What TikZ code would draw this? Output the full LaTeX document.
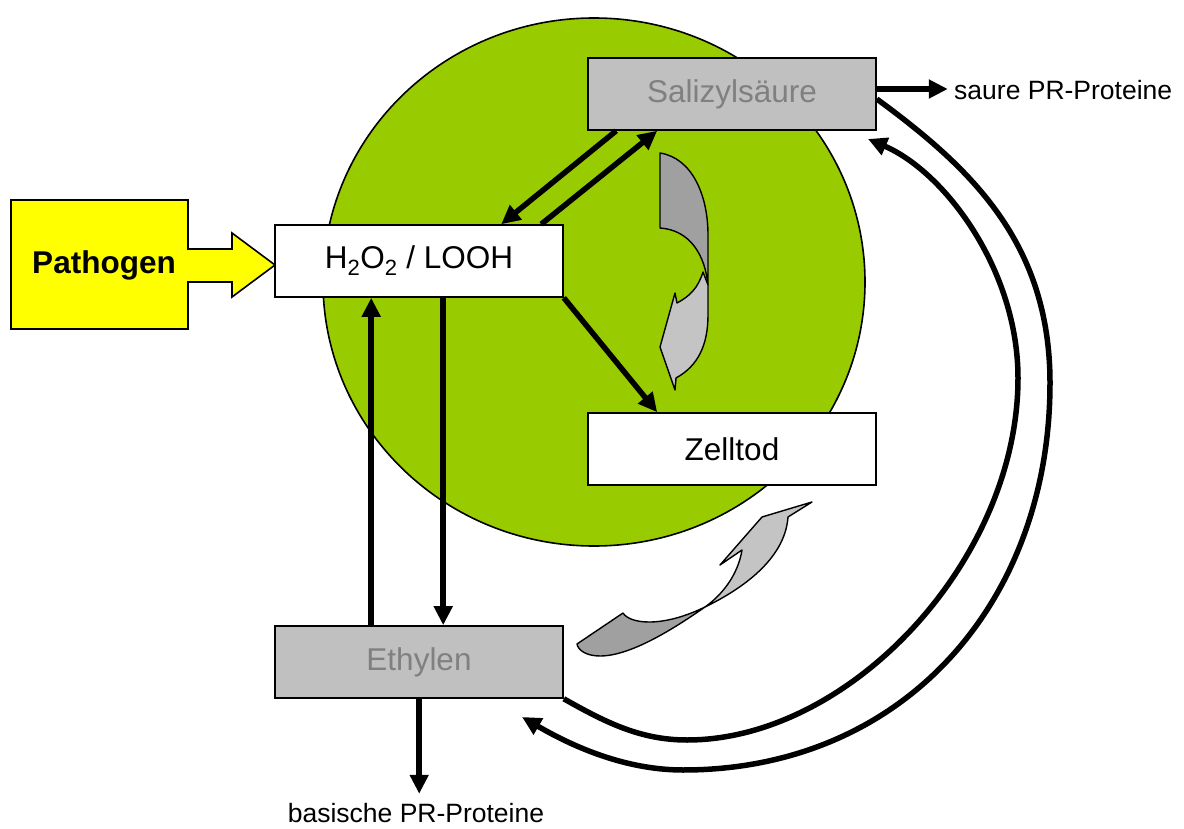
\documentclass[tikz,border=0pt]{standalone}
\usepackage{fontspec}
\setmainfont{Liberation Sans}
\usetikzlibrary{arrows.meta}

\definecolor{leaf}{RGB}{153,204,0}
\definecolor{boxgray}{RGB}{192,192,192}
\definecolor{textgray}{RGB}{128,128,128}
\definecolor{bandDark}{RGB}{160,160,160}
\definecolor{bandLight}{RGB}{196,196,196}
\definecolor{signal}{RGB}{255,255,0}

\begin{document}
\begin{tikzpicture}[x=1pt,y=-1pt,
  box/.style={draw=black, line width=1.6pt, minimum width=288pt, minimum height=72pt,
              inner sep=0pt, font=\fontsize{31.5}{36}\selectfont},
  whitebox/.style={box, fill=white},
  graybox/.style={box, fill=boxgray, text=textgray},
  flow/.style={line width=5.5pt, -{Triangle[length=19pt,width=18pt]}},
  small/.style={font=\fontsize{26.5}{30}\selectfont, inner sep=0pt},
  band/.style={draw=black, line width=1.4pt, line join=round}]

\useasboundingbox (0,0) rectangle (1184,829);

% cell
\draw[fill=leaf, line width=1.6pt] (594,282) ellipse [x radius=271pt, y radius=264pt];

% pathogen block arrow
\draw[fill=signal, line width=1.6pt, line join=miter]
  (11,200) -- (188,200) -- (188,249) -- (232,249) -- (232,233) -- (275,265)
  -- (232,297) -- (232,282) -- (188,282) -- (188,329) -- (11,329) -- cycle;
\node[font=\bfseries\fontsize{31.5}{36}\selectfont] (pathogen) at (104,265) {Pathogen};

% boxes
\node[whitebox] (h2o2) at (419,261) {H\textsubscript{2}O\textsubscript{2} / LOOH};
\node[graybox]  (sal)  at (732,94)  {Salizylsäure};
\node[whitebox] (zell) at (732,449) {Zelltod};
\node[graybox]  (eth)  at (419,662) {Ethylen};

% outputs
\coordinate (acidEnd) at ([xshift=71pt,yshift=5pt]sal.east);
\coordinate (basicEnd) at ([xshift=145pt,yshift=-95pt]eth.south west);
\node[small, anchor=west] (acid) at (954,90) {saure PR-Proteine};
\node[small] (basic) at (416,813) {basische PR-Proteine};

% straight connectors
\draw[flow] ([xshift=29pt]sal.south west) -- ([xshift=227pt]h2o2.north west);
\draw[flow] ([xshift=267pt]h2o2.north west) -- ([xshift=70pt]sal.south west);
\draw[flow] (h2o2.south east) -- ([xshift=70pt]zell.north west);
\draw[flow] ([xshift=169pt]h2o2.south west) -- ([xshift=169pt]eth.north west);
\draw[flow] ([xshift=97pt]eth.north west) -- ([xshift=97pt]h2o2.south west);
\draw[flow] ([xshift=145pt]eth.south west) -- (basicEnd);
\draw[flow] ([yshift=5pt]sal.east) -- (acidEnd);

% long feedback arcs
\coordinate (ethIn) at (522,717);
\coordinate (salIn) at (868,139);
\draw[flow] ([yshift=-5pt]sal.east) .. controls (971,168) and (1050,243) .. (1050,383)
  .. controls (1050,603) and (903,770) .. (683,770)
  .. controls (620,770) and (565,742) .. (ethIn);
\draw[flow] (eth.south east) .. controls (605,722) and (640,740) .. (687,740)
  .. controls (850,740) and (1018,560) .. (1018,378)
  .. controls (1018,270) and (945,172) .. (salIn);

% twisted ribbon arrow inside the cell
\draw[band, fill=bandDark] (660,153) .. controls (692,158) and (708,195) .. (708,235)
  -- (708,285) .. controls (705,255) and (690,230) .. (660,228) -- cycle;
\draw[band, fill=bandLight] (703,272) .. controls (698,288) and (690,296) .. (677,303)
  -- (675,293) -- (660,347) -- (675,390) -- (676,378)
  .. controls (698,366) and (708,345) .. (708,315) -- (708,285) -- cycle;

% twisted ribbon arrow below the cell
\draw[band, fill=bandDark] (577,644) -- (623,613) .. controls (630,624) and (662,628) .. (705,607)
  .. controls (672,630) and (630,656) .. (600,656) .. controls (586,656) and (578,650) .. cycle;
\draw[band, fill=bandLight] (705,607) .. controls (740,590) and (785,560) .. (788,517)
  -- (812,502) -- (762,517) -- (720,565) -- (742,550)
  .. controls (738,575) and (722,595) .. (705,607) -- cycle;

\end{tikzpicture}
\end{document}
